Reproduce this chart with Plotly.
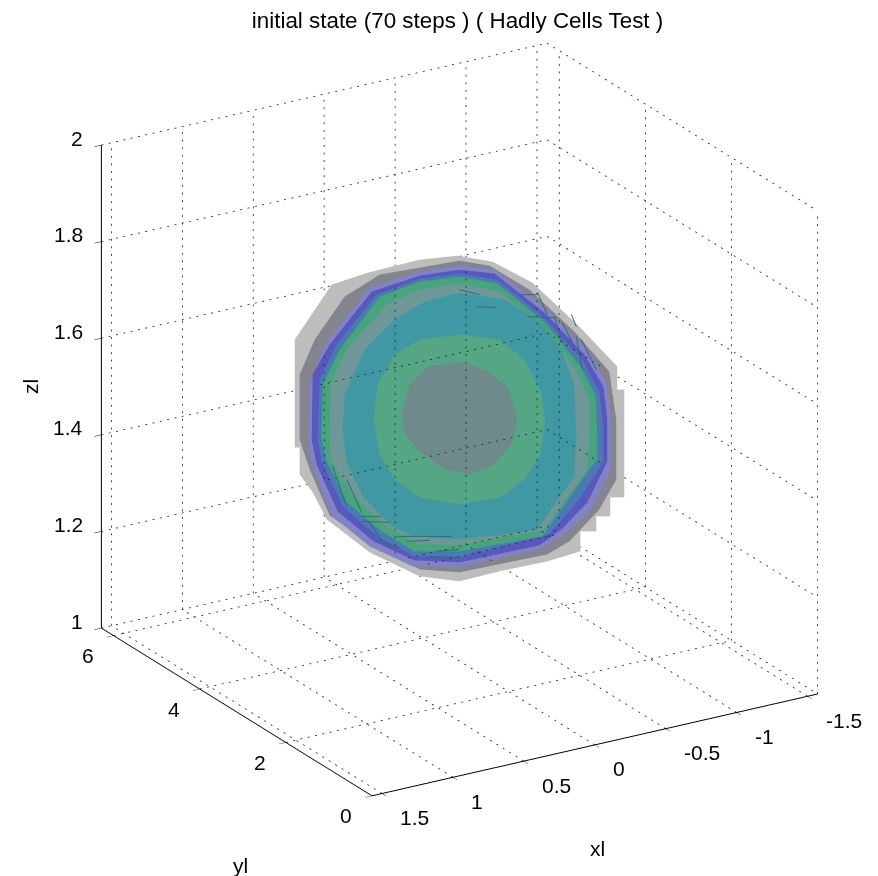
import math
import plotly.graph_objects as go

TITLE = "initial state (70 steps ) ( Hadly Cells Test )"
x_limits = [math.pi / 2, -math.pi / 2]
y_limits = [0, 2 * math.pi]
z_limits = [1, 2]
x_ticks = [-1.5, -1, -0.5, 0, 0.5, 1, 1.5]
y_ticks = [0, 2, 4, 6]
z_ticks = [1, 1.2, 1.4, 1.6, 1.8, 2]

# Shell outlines as seen along the view axis: offsets from the box centre, 1/522 of a box side
shell_outer_u = [-165,-128,-92,-40,-2,33,73,120,158,158,165,165,151,151,137,137,121,121,88,40,0,-40,-90,-133,-147,-160,-160,-165]
shell_outer_v = [80,135,147,160,164,158,137,93,53,30,30,-78,-78,-97,-97,-112,-112,-132,-142,-152,-162,-157,-133,-100,-73,-55,-28,-28]
shell_2_u = [-160,-160,-145,-115,-80,0,30,70,115,150,157,157,140,110,88,0,-40,-85,-130,-150]
shell_2_v = [-20,45,80,123,145,159,154,130,88,48,0,-60,-90,-122,-135,-153,-150,-128,-96,-50]
shell_3_u = [-151,-150,-135,-90,-40,0,35,85,130,148,152,152,130,105,80,0,-47,-90,-127,-147]
shell_3_v = [-20,35,75,132,148,154,150,112,68,35,0,-50,-93,-115,-130,-148,-147,-127,-97,-47]
shell_4_u = [-148,-147,-130,-88,-40,0,35,85,125,144,148,148,128,102,80,0,-45,-86,-122,-143]
shell_4_v = [-20,45,75,128,144,150,146,107,65,33,0,-42,-83,-110,-126,-143,-141,-122,-92,-45]
shell_5_u = [-142,-140,-123,-83,-40,0,38,85,123,140,144,144,120,90,0,-45,-82,-117,-138]
shell_5_v = [-20,40,75,125,141,146,140,102,60,28,-10,-42,-80,-115,-138,-137,-117,-87,-42]
shell_6_u = [-138,-137,-120,-80,-40,0,38,85,120,136,138,138,130,83,0,-45,-78,-113,-133]
shell_6_v = [-20,35,70,123,138,143,136,98,55,25,-10,-40,-50,-117,-132,-132,-112,-83,-42]
shell_7_u = [-130,-129,-113,-73,-40,0,40,85,115,130,130,128,85,0,-42,-75,-108,-128]
shell_7_v = [-20,35,70,115,130,136,128,92,52,20,-15,-50,-110,-126,-125,-105,-75,-42]
shell_8_u = [-117,-115,-95,-65,-35,0,45,80,102,115,117,115,78,40,0,-47,-67,-97,-113]
shell_8_v = [-10,25,70,100,118,127,120,98,70,35,-20,-57,-110,-116,-120,-117,-107,-77,-43]
shell_9_u = [-86,-82,-65,-40,0,40,65,81,86,81,65,40,0,-40,-65,-80]
shell_9_v = [0,35,65,80,85,80,60,30,0,-35,-60,-78,-85,-78,-60,-35]
shell_core_u = [-58,-50,-30,5,30,50,58,52,35,10,-15,-40,-55]
shell_core_v = [5,35,54,57,48,30,0,-25,-45,-55,-50,-32,-15]

shell_colors = ["#bdbdbd", "#84848e", "#8282c6", "#5858be", "#4a7ab4", "#48a47c", "#6e9898", "#3f98a3", "#55a684", "#6f8a8a"]
shells = [(shell_outer_u, shell_outer_v), (shell_2_u, shell_2_v), (shell_3_u, shell_3_v), (shell_4_u, shell_4_v),
          (shell_5_u, shell_5_v), (shell_6_u, shell_6_v), (shell_7_u, shell_7_v), (shell_8_u, shell_8_v),
          (shell_9_u, shell_9_v), (shell_core_u, shell_core_v)]

# Dark streaks on the shell walls, pairs of (u, v) offsets
streak_u = [78,88, 68,97, 95,103, 103,115, 112,117, 117,123, 122,137, 60,78, 0,20, 17,37,
            -127,-113, -113,-98, -98,-78, -97,-70, -90,-77, -63,-37, -37,-7, -53,-30, -30,-3, -80,-60, -23,0]
streak_v = [127,105, 103,102, 103,77, 97,73, 105,93, 83,50, 80,50, 125,125, 130,125, 113,112,
            -47,-87, -60,-93, -97,-97, -102,-103, -103,-123, -117,-117, -117,-117, -122,-121, -137,-138, -123,-128, -132,-130]

# View: azimuth from the box corner tick positions, elevation 22.1 degrees
sin_el, cos_el = 0.3765, 0.9265
dx, dy = -0.519, -0.8547
RIGHT = (-dy, dx, 0.0)
UP = (-sin_el * dx, -sin_el * dy, cos_el)
FRONT = (cos_el * dx, cos_el * dy, sin_el)
SIDE = 522.0
DOT_STEP = 7.5
DOT_LEN = 2.0
SHELL_REACH = 150.0


def to_data(u, v, w=0.0):
    p = [(u * RIGHT[i] + v * UP[i] + w * FRONT[i]) / SIDE for i in range(3)]
    return -p[0] * math.pi, math.pi + p[1] * 2 * math.pi, 1.5 + p[2]


def to_view(p):
    d = (-p[0] / math.pi, (p[1] - math.pi) / (2 * math.pi), p[2] - 1.5)
    return (SIDE * sum(d[i] * RIGHT[i] for i in range(3)), SIDE * sum(d[i] * UP[i] for i in range(3)))


def screen_len(a, b):
    ua, va = to_view(a)
    ub, vb = to_view(b)
    return math.hypot(ub - ua, vb - va)


fig = go.Figure()

xlo, xhi = -math.pi / 2, math.pi / 2
yhi = 2 * math.pi
grid_x, grid_y, grid_z = [], [], []
seen_x, seen_y, seen_z = [], [], []


def seg(a, b):
    total = screen_len(a, b)
    n = max(1, int(total / DOT_STEP))
    for m in range(n):
        t0 = m / n
        t1 = t0 + DOT_LEN / total
        p0 = tuple(a[i] + (b[i] - a[i]) * t0 for i in range(3))
        p1 = tuple(a[i] + (b[i] - a[i]) * t1 for i in range(3))
        grid_x.extend([p0[0], p1[0], None])
        grid_y.extend([p0[1], p1[1], None])
        grid_z.extend([p0[2], p1[2], None])
        u0, v0 = to_view(p0)
        if math.hypot(u0, v0) < SHELL_REACH:
            q0 = to_data(u0, v0, 60)
            q1 = to_data(*to_view(p1), 60)
            seen_x.extend([q0[0], q1[0], None])
            seen_y.extend([q0[1], q1[1], None])
            seen_z.extend([q0[2], q1[2], None])


for t in x_ticks:
    seg((t, yhi, 1), (t, yhi, 2))
    seg((t, 0, 1), (t, yhi, 1))
for t in y_ticks:
    seg((xlo, t, 1), (xlo, t, 2))
    seg((xhi, t, 1), (xlo, t, 1))
for t in z_ticks:
    seg((xhi, yhi, t), (xlo, yhi, t))
    seg((xlo, yhi, t), (xlo, 0, t))
fig.add_trace(go.Scatter3d(x=grid_x, y=grid_y, z=grid_z, mode="lines", connectgaps=False,
                           line=dict(color="#111111", width=1.5), hoverinfo="skip", showlegend=False))

for k, ((us, vs), col) in enumerate(zip(shells, shell_colors)):
    w = 2.0 * k
    pts = [to_data(u, v, w) for u, v in zip(us, vs)]
    cu, cv = sum(us) / len(us), sum(vs) / len(vs)
    c = to_data(cu, cv, w)
    X = [c[0]] + [p[0] for p in pts]
    Y = [c[1]] + [p[1] for p in pts]
    Z = [c[2]] + [p[2] for p in pts]
    n = len(pts)
    fig.add_trace(go.Mesh3d(x=X, y=Y, z=Z, i=[0] * n, j=[m + 1 for m in range(n)],
                            k=[(m + 1) % n + 1 for m in range(n)], color=col, opacity=1,
                            flatshading=True, hoverinfo="skip", showlegend=False,
                            lighting=dict(ambient=1, diffuse=0, specular=0, roughness=1, fresnel=0)))

fig.add_trace(go.Scatter3d(x=seen_x, y=seen_y, z=seen_z, mode="lines", connectgaps=False,
                           line=dict(color="#10252c", width=1.5), hoverinfo="skip", showlegend=False))

sx, sy, sz = [], [], []
for m in range(0, len(streak_u), 2):
    a = to_data(streak_u[m], streak_v[m], 70)
    b = to_data(streak_u[m + 1], streak_v[m + 1], 70)
    sx += [a[0], b[0], None]
    sy += [a[1], b[1], None]
    sz += [a[2], b[2], None]
fig.add_trace(go.Scatter3d(x=sx, y=sy, z=sz, mode="lines", line=dict(color="#2f6d76", width=2),
                           hoverinfo="skip", showlegend=False))

FONT = dict(family="Liberation Sans, Arial, sans-serif", size=21, color="black")
ann = []
for t in x_ticks:
    ann.append(dict(x=t, y=0, z=1, text=f"{t:g}", showarrow=False, xanchor="left", yanchor="middle", xshift=16, yshift=-24, font=FONT))
for t in y_ticks:
    ann.append(dict(x=xhi, y=t, z=1, text=f"{t:g}", showarrow=False, xanchor="right", yanchor="middle", xshift=-18, yshift=-20, font=FONT))
for t in z_ticks:
    ann.append(dict(x=xhi, y=yhi, z=t, text=f"{t:g}", showarrow=False, xanchor="right", yanchor="middle", xshift=-16, yshift=7, font=FONT))
ann.append(dict(x=0, y=0, z=1, text="xl", showarrow=False, xshift=3, yshift=-104, font=FONT))
ann.append(dict(x=xhi, y=math.pi, z=1, text="yl", showarrow=False, xshift=4, yshift=-153, font=FONT))
ann.append(dict(x=xhi, y=yhi, z=1.5, text="zl", showarrow=False, xshift=-71, textangle=-90, font=FONT))

ax = dict(showbackground=False, showgrid=False, zeroline=False, showspikes=False, showticklabels=False,
          title=dict(text=""), showline=True, linecolor="black", linewidth=2, ticks="outside", ticklen=8,
          tickcolor="black", tickwidth=1, mirror=False)
L = 2.5
K = 1.267
fig.update_layout(
    width=878, height=876, margin=dict(l=0, r=0, t=0, b=0), paper_bgcolor="white", plot_bgcolor="white",
    showlegend=False,
    title=dict(text=TITLE, x=0.512, xanchor="center", y=0.9863, yanchor="middle",
               font=dict(family="Liberation Sans, Arial, sans-serif", size=22.4, color="black")),
    scene=dict(
        domain=dict(x=[0.0284, 1.0], y=[0.0604, 1.0]),
        aspectmode="manual", aspectratio=dict(x=K, y=K, z=K),
        xaxis=dict(ax, range=x_limits, tickvals=x_ticks),
        yaxis=dict(ax, range=y_limits, tickvals=y_ticks),
        zaxis=dict(ax, range=z_limits, tickvals=z_ticks),
        annotations=ann,
        camera=dict(projection=dict(type="orthographic"), up=dict(x=0, y=0, z=1), center=dict(x=0, y=0, z=0),
                    eye=dict(x=L * FRONT[0], y=L * FRONT[1], z=L * FRONT[2])),
    ),
)
fig.write_html("out.html")
